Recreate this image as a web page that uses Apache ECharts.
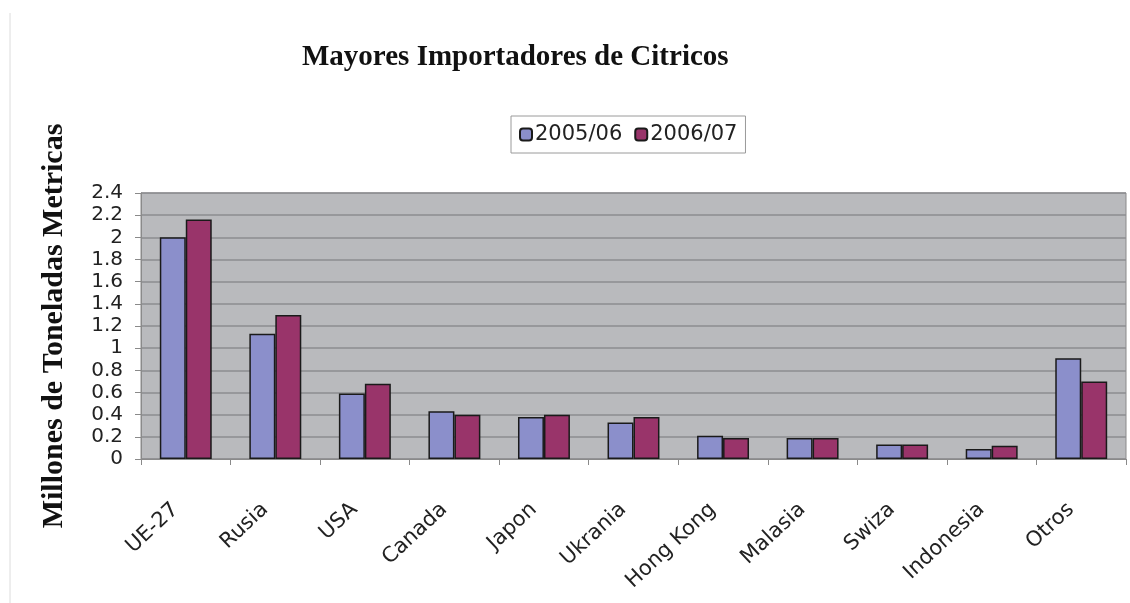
<!DOCTYPE html>
<html>
<head>
<meta charset="utf-8">
<script src="https://cdn.jsdelivr.net/npm/echarts@6/dist/echarts.min.js"></script>
<style>
  html, body { margin: 0; padding: 0; background: #fff; }
  #chart { width: 1130px; height: 603px; }
</style>
</head>
<body>
<div id="chart"></div>
<script>
// datos (millones de toneladas)
const paises = ['UE-27', 'Rusia', 'USA', 'Canada', 'Japon', 'Ukrania', 'Hong Kong', 'Malasia', 'Swiza', 'Indonesia', 'Otros']
const temporada0506 = [2.0, 1.13, 0.59, 0.43, 0.38, 0.33, 0.21, 0.19, 0.13, 0.09, 0.91]
const temporada0607 = [2.16, 1.30, 0.68, 0.40, 0.40, 0.38, 0.19, 0.19, 0.13, 0.12, 0.70]
const nombresSeries = ['2005/06', '2006/07']

const chart = echarts.init(document.getElementById('chart'))

const sansFont = 'DejaVu Sans'
const serifFont = 'Liberation Serif'

chart.setOption({
  animation: false,
  backgroundColor: '#fff',
  title: {
    text: 'Mayores Importadores de Citricos',
    left: 302,
    top: 43,
    padding: 0,
    textStyle: {
      fontFamily: serifFont,
      fontWeight: 'bold',
      fontSize: 29,
      color: '#111',
    },
  },
  legend: {
    data: nombresSeries,
    left: 511,
    top: 116,
    padding: [8, 8, 8, 8],
    itemWidth: 12,
    itemHeight: 12,
    itemGap: 12,
    borderColor: '#9a9a9a',
    borderWidth: 1,
    backgroundColor: '#fff',
    textStyle: {
      fontFamily: sansFont,
      fontSize: 21,
      color: '#222',
      padding: [0, 0, 0, -2],
    },
  },
  grid: {
    left: 141,
    right: 4,
    top: 193,
    bottom: 144,
    show: true,
    backgroundColor: '#b9babd',
    borderColor: '#8a8a8a',
    borderWidth: 1,
  },
  xAxis: {
    type: 'category',
    data: paises,
    axisLine: { lineStyle: { color: '#8a8a8a', width: 1 } },
    axisTick: { show: true, length: 6, lineStyle: { color: '#8a8a8a' } },
    axisLabel: {
      rotate: 43,
      interval: 0,
      margin: 38,
      padding: [0, 14, 0, 0],
      fontFamily: sansFont,
      fontSize: 21,
      color: '#222',
    },
  },
  yAxis: {
    type: 'value',
    min: 0,
    max: 2.4,
    interval: 0.2,
    name: 'Millones de Toneladas Metricas',
    nameLocation: 'middle',
    nameRotate: 90,
    nameGap: 72,
    nameTextStyle: {
      fontFamily: serifFont,
      fontWeight: 'bold',
      fontSize: 30,
      color: '#111',
    },
    axisLine: { show: true, lineStyle: { color: '#8a8a8a' } },
    axisTick: { show: true, length: 6, lineStyle: { color: '#8a8a8a' } },
    splitLine: { lineStyle: { color: '#8c8d90', width: 1.5 } },
    axisLabel: {
      margin: 18,
      fontFamily: sansFont,
      fontSize: 20,
      color: '#222',
    },
  },
  graphic: [
    {
      type: 'line',
      shape: { x1: 10, y1: 13, x2: 10, y2: 603 },
      style: { stroke: '#dcdcdc', lineWidth: 1 },
      silent: true,
    },
  ],
  series: [
    {
      name: nombresSeries[0],
      type: 'bar',
      data: temporada0506,
      barGap: '0%',
      barCategoryGap: '42%',
      itemStyle: { color: '#8b8fcb', borderColor: '#1a1a1a', borderWidth: 1.5 },
    },
    {
      name: nombresSeries[1],
      type: 'bar',
      data: temporada0607,
      barGap: '0%',
      barCategoryGap: '42%',
      itemStyle: { color: '#99346a', borderColor: '#1a1a1a', borderWidth: 1.5 },
    },
  ],
})
</script>
</body>
</html>
